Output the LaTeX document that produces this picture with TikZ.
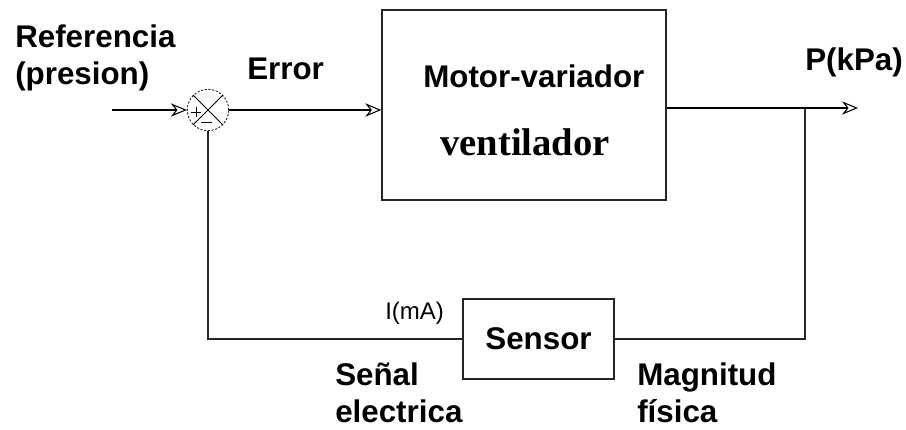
\documentclass[tikz,border=0pt]{standalone}
\usepackage{fontspec}
\setmainfont{Liberation Sans}
\newfontfamily\serifbf{Liberation Serif}
\usetikzlibrary{arrows.meta, positioning, calc}
\tikzset{
  blk/.style    = {draw=black!85, line width=1.1pt, fill=white, inner sep=0pt},
  sumnode/.style= {draw=black!85, circle, dash pattern=on 1.6pt off 1.2pt,
                   line width=0.7pt, minimum size=31pt, inner sep=0pt},
  sig/.style    = {-{Stealth[open, length=12pt, width=10pt, line width=0.8pt]}, line width=1.1pt},
  wire/.style   = {line width=1.1pt, draw=black!85},
  lbl/.style    = {font=\fontsize{23.5}{27.75}\selectfont\bfseries, inner sep=0pt},
  sm/.style     = {font=\fontsize{18}{20}\selectfont, inner sep=0pt},
}

\begin{document}
\begin{tikzpicture}[x=0.75pt, y=-0.75pt]
  \useasboundingbox (0,0) rectangle (906,429);

  % bloques
  \node[sumnode] (sum) at (208,110) {};
  \node[blk, minimum width=213pt, minimum height=142.5pt] (motor) at (524,105) {};
  \node[blk, minimum width=113.25pt, minimum height=60pt,
        font=\fontsize{23.5}{27.75}\selectfont\bfseries] (sensor) at (538.5,339) {Sensor};

  % simbolos del sumador
  \draw[line width=0.7pt] (sum.north west) -- (sum.south east)
                          (sum.north east) -- (sum.south west);
  \draw[line width=0.7pt] ($(sum)+(-17,2)$) -- ($(sum)+(-7,2)$)
                          ($(sum)+(-12,-3)$) -- ($(sum)+(-12,7)$)
                          ($(sum)+(-7,12)$) -- ($(sum)+(4,12)$);

  \coordinate (ref) at (112,110);
  \coordinate (out) at (858,108);
  \coordinate (br)  at (805,108);

  % conexiones
  \draw[sig] (ref) -- (sum.west);
  \draw[sig] (sum.east) -- (sum.east -| motor.west);
  \draw[sig] (out -| motor.east) -- (out);
  \draw[wire] (br) |- (sensor.east);
  \draw[wire] (sensor.west) -| (sum.south);

  % textos
  \node[lbl, anchor=north west, align=left] (tref) at (15,25) {Referencia\\(presion)};
  \node[lbl, anchor=base west] (terr) at (247,79) {Error};
  \node[lbl, anchor=base west] (tout) at (805,70) {P(kPa)};
  \node[lbl, anchor=base west] (tmot) at (423,87) {Motor-variador};
  \node[font=\fontsize{29}{32}\selectfont\serifbf\bfseries, inner sep=0pt,
        anchor=base west] (tven) at (440,155) {ventilador};
  \node[sm, anchor=base west] (tma) at (385,319) {I(mA)};
  \node[lbl, anchor=north west, align=left] (tsen) at (335,363) {Señal\\electrica};
  \node[lbl, anchor=north west, align=left] (tmag) at (637,363) {Magnitud\\física};
\end{tikzpicture}
\end{document}
